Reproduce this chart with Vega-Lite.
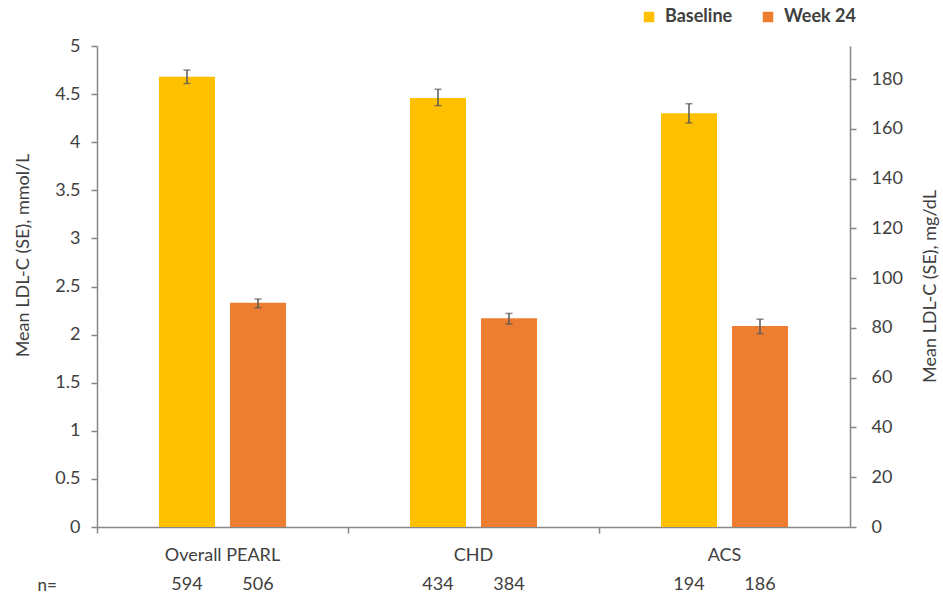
{
  "$schema": "https://vega.github.io/schema/vega-lite/v6.json",
  "width": 753,
  "height": 481,
  "autosize": "none",
  "padding": {"left": 97, "top": 46, "right": 93, "bottom": 75},
  "background": "white",
  "config": {
    "view": {"stroke": null},
    "font": "Lato",
    "axis": {"labelFont": "Lato", "titleFont": "Lato", "labelColor": "#404040", "titleColor": "#404040", "domainColor": "#868686", "tickColor": "#868686", "grid": false, "labelFontSize": 18, "titleFontSize": 18, "titleFontWeight": "normal", "domainWidth": 1.5, "tickWidth": 1.5}
  },
  "datasets": {
    "ldl": [
      {"population": "Overall PEARL", "timepoint": "Baseline", "mean": 4.68, "lo": 4.61, "hi": 4.75, "n": 594},
      {"population": "Overall PEARL", "timepoint": "Week 24", "mean": 2.33, "lo": 2.28, "hi": 2.37, "n": 506},
      {"population": "CHD", "timepoint": "Baseline", "mean": 4.46, "lo": 4.38, "hi": 4.55, "n": 434},
      {"population": "CHD", "timepoint": "Week 24", "mean": 2.17, "lo": 2.11, "hi": 2.22, "n": 384},
      {"population": "ACS", "timepoint": "Baseline", "mean": 4.30, "lo": 4.20, "hi": 4.40, "n": 194},
      {"population": "ACS", "timepoint": "Week 24", "mean": 2.09, "lo": 2.01, "hi": 2.16, "n": 186}
    ]
  },
  "data": {"name": "ldl"},
  "encoding": {
    "x": {
      "field": "population", "type": "nominal",
      "sort": ["Overall PEARL", "CHD", "ACS"],
      "scale": {"paddingInner": 0, "paddingOuter": 0},
      "axis": {"bandPosition": 0, "labelAngle": 0, "tickSize": 6, "labelPadding": 13, "title": "n=", "titleX": -60, "titleY": 58, "titleAlign": "left", "titleBaseline": "middle", "titleAngle": 0, "titleFontSize": 17}
    },
    "xOffset": {
      "field": "timepoint", "type": "nominal",
      "sort": ["Baseline", "Week 24"],
      "scale": {"paddingInner": 0.211, "paddingOuter": 0.873}
    }
  },
  "layer": [
    {
      "encoding": {
        "y": {"field": "mean", "type": "quantitative", "scale": {"domain": [0, 5]},
          "axis": {"orient": "left", "values": [0, 0.5, 1, 1.5, 2, 2.5, 3, 3.5, 4, 4.5, 5], "format": "~g", "tickSize": 6, "labelPadding": 11, "title": "Mean LDL-C (SE), mmol/L", "titleAngle": 270, "titleX": -74, "titleY": 209, "titleAlign": "center", "titleBaseline": "middle"}}
      },
      "layer": [
        {
          "mark": {"type": "bar"},
          "encoding": {
            "color": {"field": "timepoint", "type": "nominal", "sort": ["Baseline", "Week 24"],
              "scale": {"domain": ["Baseline", "Week 24"], "range": ["#FFC000", "#ED7D31"]},
              "legend": {"title": null, "orient": "none", "direction": "horizontal", "legendX": 543, "legendY": -38, "symbolType": "square", "symbolSize": 110, "symbolStrokeWidth": 0, "labelFont": "Lato", "labelFontSize": 18, "labelFontWeight": "bold", "labelColor": "#404040", "labelOffset": 7, "columnPadding": 26, "padding": 0}}
          }
        },
        {
          "mark": {"type": "rule", "color": "#595959", "strokeWidth": 1.5},
          "encoding": {"y": {"field": "lo", "type": "quantitative"}, "y2": {"field": "hi"}}
        },
        {
          "mark": {"type": "tick", "color": "#595959", "thickness": 1.5, "size": 7},
          "encoding": {"y": {"field": "lo", "type": "quantitative"}}
        },
        {
          "mark": {"type": "tick", "color": "#595959", "thickness": 1.5, "size": 7},
          "encoding": {"y": {"field": "hi", "type": "quantitative"}}
        },
        {
          "mark": {"type": "text", "fontSize": 18, "color": "#404040", "baseline": "middle", "align": "center", "font": "Lato"},
          "encoding": {"y": {"datum": -0.6, "type": "quantitative"}, "text": {"field": "n", "type": "quantitative"}}
        }
      ]
    },
    {
      "mark": {"type": "rule", "opacity": 0},
      "encoding": {
        "x": null,
        "xOffset": null,
        "y": {"datum": 0, "type": "quantitative", "scale": {"domain": [0, 193.35]},
          "axis": {"orient": "right", "values": [0, 20, 40, 60, 80, 100, 120, 140, 160, 180], "tickSize": 6, "labelPadding": 15, "title": "Mean LDL-C (SE), mg/dL", "titleAngle": 270, "titleX": 80, "titleY": 240, "titleAlign": "center", "titleBaseline": "middle"}}
      }
    }
  ],
  "resolve": {"scale": {"y": "independent"}, "axis": {"y": "independent"}}
}
